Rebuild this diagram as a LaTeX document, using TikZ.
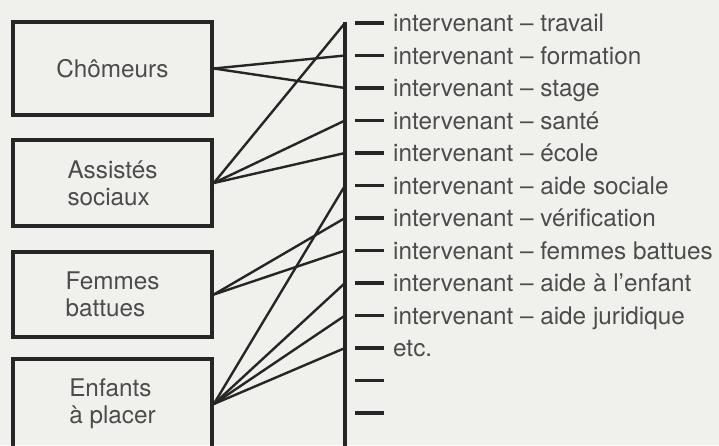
\documentclass[tikz,border=0pt]{standalone}
\usepackage{fontspec}
\setmainfont{TeX Gyre Heros}
\usepackage{xcolor}
\definecolor{ink}{rgb}{0.15,0.15,0.15}
\definecolor{txt}{rgb}{0.3,0.3,0.3}
\definecolor{paper}{rgb}{0.94,0.94,0.925}
\usetikzlibrary{positioning, calc}
\tikzstyle{groupbox} = [draw=ink, line width=3.6pt, rectangle, minimum width=199pt, inner sep=0pt, text=txt, align=left, font=\fontsize{24.3}{27}\selectfont]
\tikzstyle{link} = [draw=ink, line width=2.4pt]
\tikzstyle{tickmark} = [draw=ink, line width=3.4pt]
\tikzstyle{itemtext} = [anchor=base west, inner sep=0pt, text=txt, font=\fontsize{24.3}{27}\selectfont]

\begin{document}
\begin{tikzpicture}[x=1pt, y=-1pt]
    % paper
    \fill[paper] (0,0) rectangle (719,445);
    \useasboundingbox (0,0) rectangle (719,445);

    % groups
    \node[groupbox, minimum height=93pt] (cho) at (112.5,68.5) {Chômeurs};
    \node[groupbox, minimum height=86pt] (ass) at (112.5,183) {Assistés\\sociaux};
    \node[groupbox, minimum height=85pt] (fem) at (112.5,294.5) {Femmes\\battues};
    \node[groupbox, minimum height=90pt] (enf) at (112.5,404) {Enfants\\à placer};

    % bar
    \coordinate (top) at (345,22);
    \coordinate (bot) at (345,450);
    \draw[tickmark] (top) -- (bot);

    % points on the bar
    \coordinate (t1) at (345,23);
    \coordinate (t2) at (345,55.5);
    \coordinate (t3) at (345,88);
    \coordinate (t4) at (345,120.5);
    \coordinate (t5) at (345,153);
    \coordinate (t6) at (345,185.5);
    \coordinate (t7) at (345,218);
    \coordinate (t8) at (345,250.5);
    \coordinate (t9) at (345,283);
    \coordinate (t10) at (345,315.5);
    \coordinate (t11) at (345,348);
    \coordinate (t12) at (345,380.5);
    \coordinate (t13) at (345,413);

    % ticks and labels
    \draw[tickmark] ($(t1)+(10,0)$) -- ($(t1)+(39,0)$);
    \node[itemtext] (l1) at ($(t1)+(48,8.6)$) {intervenant -- travail};
    \draw[tickmark] ($(t2)+(10,0)$) -- ($(t2)+(39,0)$);
    \node[itemtext] (l2) at ($(t2)+(48,8.6)$) {intervenant -- formation};
    \draw[tickmark] ($(t3)+(10,0)$) -- ($(t3)+(39,0)$);
    \node[itemtext] (l3) at ($(t3)+(48,8.6)$) {intervenant -- stage};
    \draw[tickmark] ($(t4)+(10,0)$) -- ($(t4)+(39,0)$);
    \node[itemtext] (l4) at ($(t4)+(48,8.6)$) {intervenant -- santé};
    \draw[tickmark] ($(t5)+(10,0)$) -- ($(t5)+(39,0)$);
    \node[itemtext] (l5) at ($(t5)+(48,8.6)$) {intervenant -- école};
    \draw[tickmark] ($(t6)+(10,0)$) -- ($(t6)+(39,0)$);
    \node[itemtext] (l6) at ($(t6)+(48,8.6)$) {intervenant -- aide sociale};
    \draw[tickmark] ($(t7)+(10,0)$) -- ($(t7)+(39,0)$);
    \node[itemtext] (l7) at ($(t7)+(48,8.6)$) {intervenant -- vérification};
    \draw[tickmark] ($(t8)+(10,0)$) -- ($(t8)+(39,0)$);
    \node[itemtext] (l8) at ($(t8)+(48,8.6)$) {intervenant -- femmes battues};
    \draw[tickmark] ($(t9)+(10,0)$) -- ($(t9)+(39,0)$);
    \node[itemtext] (l9) at ($(t9)+(48,8.6)$) {intervenant -- aide à l'enfant};
    \draw[tickmark] ($(t10)+(10,0)$) -- ($(t10)+(39,0)$);
    \node[itemtext] (l10) at ($(t10)+(48,8.6)$) {intervenant -- aide juridique};
    \draw[tickmark] ($(t11)+(10,0)$) -- ($(t11)+(39,0)$);
    \node[itemtext] (l11) at ($(t11)+(48,8.6)$) {etc.};
    \draw[tickmark] ($(t12)+(10,0)$) -- ($(t12)+(39,0)$);
    \draw[tickmark] ($(t13)+(10,0)$) -- ($(t13)+(39,0)$);

    % links
    \draw[link] (cho.east) -- (t2);
    \draw[link] (cho.east) -- (t3);
    \draw[link] (ass.east) -- (t1);
    \draw[link] (ass.east) -- (t4);
    \draw[link] (ass.east) -- (t5);
    \draw[link] (fem.east) -- (t7);
    \draw[link] (fem.east) -- (t8);
    \draw[link] (enf.east) -- (t6);
    \draw[link] (enf.east) -- (t9);
    \draw[link] (enf.east) -- (t10);
    \draw[link] (enf.east) -- (t11);
\end{tikzpicture}
\end{document}
